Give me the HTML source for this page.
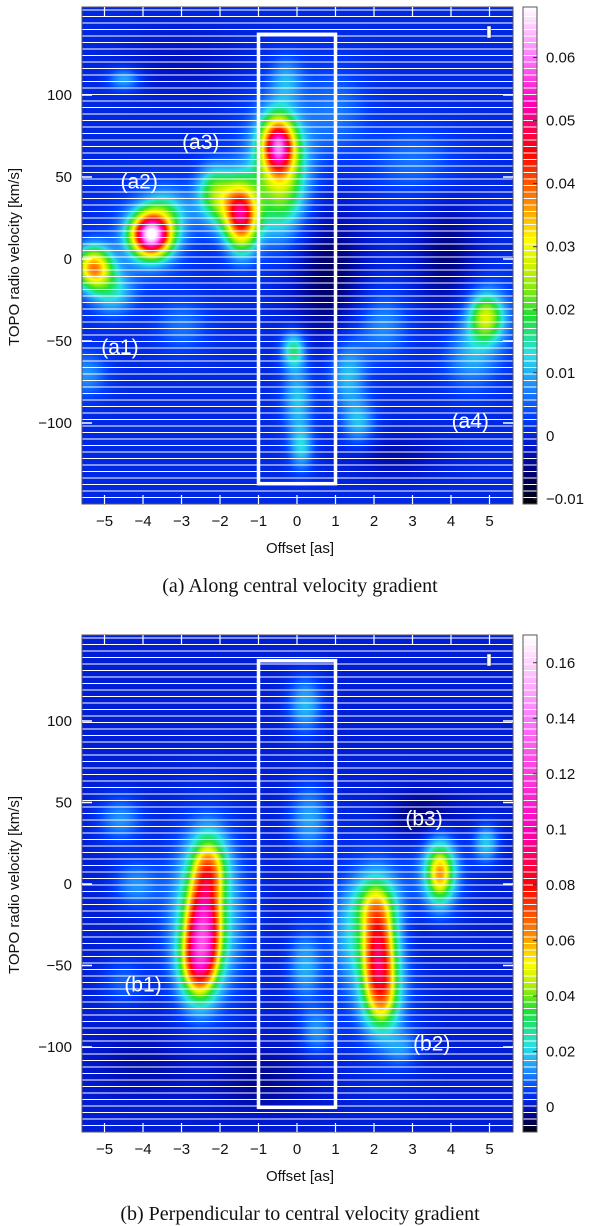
<!DOCTYPE html>
<html><head><meta charset="utf-8">
<style>
body{margin:0;background:#fff;width:600px;height:1226px;position:relative;overflow:hidden;font-family:"Liberation Sans","DejaVu Sans",sans-serif}
canvas{position:absolute}
svg{position:absolute;left:0;top:0}
</style></head>
<body>
<canvas id="hmA" width="431" height="497" style="left:82px;top:7px"></canvas>
<canvas id="cbA" width="14" height="497" style="left:523px;top:7px"></canvas>
<canvas id="hmB" width="431" height="497" style="left:82px;top:635px"></canvas>
<canvas id="cbB" width="14" height="497" style="left:523px;top:635px"></canvas>
<svg id="ov" width="600" height="1226"></svg>
<script>
// ---- data: panel (a) blobs: offset [as], velocity [km/s], peak [Jy], width offset, width vel
const aOffsets=[-5.3,-3.8,-1.45,-1.9,-0.5,-0.4,-0.1,0.0,0.1,1.3,1.6,4.9,-4.8,-3.4,-2.2,2.2,-4.5,-5.5,3.0,4.5,-3.0,1.0,-0.3,-3.8,-0.6,4.9];
const aVels=[-5,15,25,35,70,45,-55,-85,-115,-70,-100,-35,-20,30,45,-40,110,-70,60,-60,-40,90,110,15,60,-35];
const aPeaks=[0.036,0.06,0.04,0.018,0.043,0.018,0.016,0.011,0.011,0.011,0.01,0.021,0.012,0.01,0.01,0.008,0.01,0.008,0.006,0.008,0.006,0.006,0.008,0.008,0.008,0.006];
const aSx=[0.33,0.35,0.3,0.45,0.3,0.45,0.22,0.28,0.22,0.35,0.3,0.3,0.4,0.4,0.3,0.5,0.3,0.4,0.8,0.5,0.5,0.6,0.3,0.7,0.7,0.6];
const aSv=[9,9,14,12,12,22,8,15,10,15,10,10,10,10,10,15,5,10,15,15,12,20,10,18,30,18];
const aDark=[[0.8,-10,-0.007,0.7,30],[3.9,0,-0.006,0.6,25],[2.5,-120,-0.004,0.9,10],[-3,120,-0.003,1.2,15]];
// panel (b)
const bOffsets=[-2.45,-2.3,-2.6,-2.4,2.1,2.0,2.2,3.7,4.9,0.2,0.3,0.2,-4.6,-4.2,1.3,2.7,0.5,-4.5,2.1,3.7];
const bVels=[-28,10,-50,-20,-42,-12,-70,7,25,110,40,-50,40,0,-30,-100,-90,-60,-40,8];
const bPeaks=[0.085,0.045,0.045,0.025,0.072,0.03,0.035,0.05,0.018,0.016,0.014,0.015,0.012,0.012,0.01,0.01,0.012,0.008,0.012,0.01];
const bSx=[0.3,0.3,0.3,0.65,0.3,0.35,0.3,0.24,0.22,0.3,0.35,0.3,0.4,0.4,0.3,0.3,0.3,0.4,0.7,0.5];
const bSv=[20,14,14,35,20,12,14,12,8,12,15,15,10,10,20,8,10,10,40,20];
const bDark=[[3.3,40,-0.007,0.7,12],[3.0,-30,-0.004,0.5,15],[-1.0,-120,-0.004,1.0,15],[-4,-110,-0.003,1.0,15]];
// colorbar ticks
const aCbTicks=[-0.01,0,0.01,0.02,0.03,0.04,0.05,0.06];
const bCbTicks=[0,0.02,0.04,0.06,0.08,0.1,0.12,0.14,0.16];
const xTicks=[-5,-4,-3,-2,-1,0,1,2,3,4,5];
const yTicks=[100,50,0,-50,-100];

const plotL=82,plotR=513,W=431,H=497;
function xs(o){return 297+o*38.5;}
const ysA=v=>259-v*1.64, ysB=v=>884-v*1.63;
const PA={top:7,ys:ysA,vmin:-0.0108,vmax:0.068,bg:0.0005,off:aOffsets,vel:aVels,pk:aPeaks,sx:aSx,sv:aSv,dark:aDark,
 stops:[[-0.0108,[0,0,0]],[-0.006,[0,0,110]],[-0.002,[0,20,200]],[0.003,[0,60,255]],[0.008,[30,140,255]],[0.013,[40,225,230]],[0.019,[30,225,50]],[0.026,[190,240,0]],[0.031,[255,255,0]],[0.037,[255,140,0]],[0.045,[255,0,0]],[0.053,[255,0,190]],[0.060,[255,120,255]],[0.068,[255,255,255]]]};
const PB={top:635,ys:ysB,vmin:-0.009,vmax:0.17,bg:0.0015,off:bOffsets,vel:bVels,pk:bPeaks,sx:bSx,sv:bSv,dark:bDark,
 stops:[[-0.009,[0,0,0]],[-0.004,[0,0,110]],[0,[0,20,200]],[0.006,[0,60,255]],[0.013,[30,140,255]],[0.022,[40,225,230]],[0.035,[30,225,50]],[0.045,[190,240,0]],[0.052,[255,255,0]],[0.062,[255,140,0]],[0.08,[255,0,0]],[0.1,[255,0,190]],[0.14,[255,120,255]],[0.17,[255,255,255]]]};
function cmap(P,v){const s=P.stops;if(v<=s[0][0])return s[0][1];for(let i=1;i<s.length;i++){if(v<=s[i][0]){const t=(v-s[i-1][0])/(s[i][0]-s[i-1][0]);return s[i-1][1].map((c,k)=>c+(s[i][1][k]-c)*t);}}return s[s.length-1][1];}
function render(P,id,cbid){
 const c=document.getElementById(id).getContext('2d');const img=c.createImageData(W,H);
 for(let py=0;py<H;py++){const yy=P.top+py;for(let px=0;px<W;px++){const xx=plotL+px;let v=P.bg;
  for(let i=0;i<P.off.length;i++){const dx=(xx-xs(P.off[i]))/(P.sx[i]*38.5),dy=(yy-P.ys(P.vel[i]))/(P.sv[i]*1.63);v+=P.pk[i]*Math.exp(-0.5*(dx*dx+dy*dy));}
  for(const d of P.dark){const dx=(xx-xs(d[0]))/(d[3]*38.5),dy=(yy-P.ys(d[1]))/(d[4]*1.63);v+=d[2]*Math.exp(-0.5*(dx*dx+dy*dy));}
  const col=cmap(P,v);const k=(py*W+px)*4;img.data[k]=col[0];img.data[k+1]=col[1];img.data[k+2]=col[2];img.data[k+3]=255;}}
 c.putImageData(img,0,0);
 const cb=document.getElementById(cbid).getContext('2d');
 for(let py=0;py<H;py++){const v=P.vmax-(P.vmax-P.vmin)*py/H;const col=cmap(P,v);cb.fillStyle=`rgb(${col.map(Math.round).join(',')})`;cb.fillRect(0,py,14,1);}
}
render(PA,'hmA','cbA');render(PB,'hmB','cbB');
const NS='http://www.w3.org/2000/svg',svg=document.getElementById('ov');
function el(t,a,txt){const e=document.createElementNS(NS,t);for(const k in a)e.setAttribute(k,a[k]);if(txt!==undefined)e.textContent=txt;svg.appendChild(e);return e;}
function panel(P,tag,cbTicks,labels){
 const T=P.top,B=T+H;
 for(let y=T+3;y<B;y+=6.5){const l=el('line',{x1:plotL,x2:plotR,y1:y,y2:y,stroke:'#fff','stroke-width':1});
  
  const l2=el('line',{x1:523,x2:537,y1:y,y2:y,stroke:'#fff','stroke-width':1});
  }
 const fr=el('rect',{x:plotL,y:T,width:W,height:H,fill:'none',stroke:'#555','stroke-width':1});
 
 const cf=el('rect',{x:523,y:T,width:14,height:H,fill:'none',stroke:'#555','stroke-width':1});
 
 for(const o of xTicks){const x=xs(o);
  el('line',{x1:x,x2:x,y1:T,y2:T+9,stroke:'#fff','stroke-width':1.2});
  el('line',{x1:x,x2:x,y1:B-9,y2:B,stroke:'#fff','stroke-width':1.2});
  const t=el('text',{x:x,y:B+22,'text-anchor':'middle','font-size':15,fill:'#111'},o<0?'\u2212'+(-o):String(o));
  }
 for(const v of yTicks){const y=P.ys(v);
  el('line',{x1:plotL,x2:plotL+10,y1:y,y2:y,stroke:'#fff','stroke-width':1.5});
  el('line',{x1:plotR-10,x2:plotR,y1:y,y2:y,stroke:'#fff','stroke-width':1.5});
  const t=el('text',{x:plotL-10,y:y+5,'text-anchor':'end','font-size':15,fill:'#111'},v<0?'\u2212'+(-v):String(v));
  }
 for(const v of cbTicks){const y=T+(P.vmax-v)/(P.vmax-P.vmin)*H;
  el('line',{x1:533,x2:537,y1:y,y2:y,stroke:'#333','stroke-width':1});
  const t=el('text',{x:546,y:y+5,'font-size':15,fill:'#111'},v<0?'\u2212'+(-v):String(v));
  }
 const bx=el('rect',{x:xs(-1),y:P.ys(137),width:xs(1)-xs(-1),height:P.ys(-137)-P.ys(137),fill:'none',stroke:'#fff','stroke-width':3.5});
 
 el('rect',{x:487,y:T+19,width:4,height:12,fill:'#fff',stroke:'#333','stroke-width':0.5});
 for(const lb of labels){const t=el('text',{x:xs(lb[1]),y:P.ys(lb[2]),'text-anchor':'middle','font-size':21,fill:'#fff'},lb[0]);
  }
 const yl=el('text',{x:0,y:0,transform:`translate(19,${T+250}) rotate(-90)`,'text-anchor':'middle','font-size':15,fill:'#111'},'TOPO radio velocity [km/s]');
 
 const xl=el('text',{x:300,y:B+49,'text-anchor':'middle','font-size':15,fill:'#111'},'Offset [as]');
 
}
panel(PA,'a',aCbTicks,[['(a1)',-4.6,-58],['(a2)',-4.1,43],['(a3)',-2.5,67],['(a4)',4.5,-103]]);
panel(PB,'b',bCbTicks,[['(b1)',-4.0,-66],['(b2)',3.5,-102],['(b3)',3.3,36]]);
const c1=el('text',{x:300,y:592,'text-anchor':'middle','font-size':20,fill:'#111','font-family':'Liberation Serif, serif'},'(a)  Along central velocity gradient');

const c2=el('text',{x:300,y:1220,'text-anchor':'middle','font-size':20,fill:'#111','font-family':'Liberation Serif, serif'},'(b)  Perpendicular to central velocity gradient');

</script>
</body></html>
